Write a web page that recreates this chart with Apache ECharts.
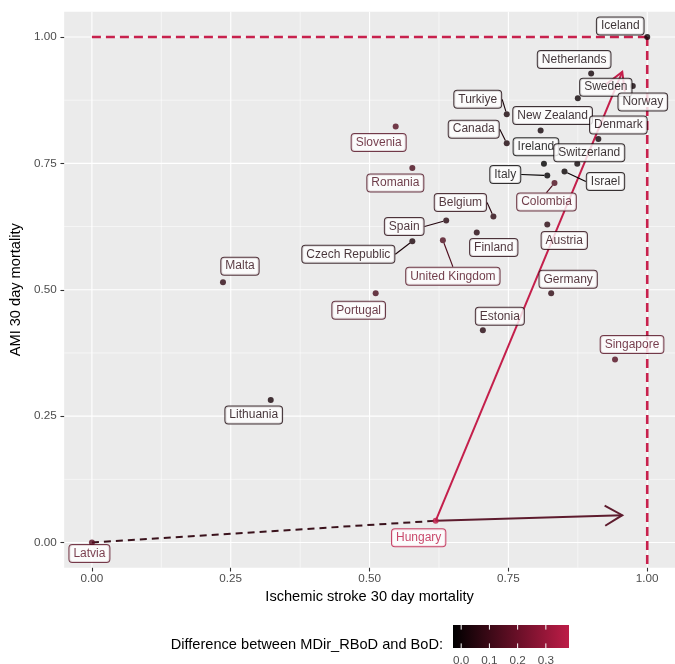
<!DOCTYPE html>
<html>
<head>
<meta charset="utf-8">
<script src="https://cdn.jsdelivr.net/npm/echarts@6/dist/echarts.min.js"></script>
<style>
  html, body { margin: 0; padding: 0; background: #ffffff; }
  #chart { width: 675px; height: 664px; }
</style>
</head>
<body>
<div id="chart"></div>
<script>
// ---- Data -----------------------------------------------------------------
const countries = [
  'Iceland', 'Netherlands', 'Sweden', 'Norway', 'Turkiye', 'New Zealand',
  'Canada', 'Ireland', 'Denmark', 'Switzerland', 'Italy', 'Israel',
  'Colombia', 'Slovenia', 'Romania', 'Belgium', 'Spain', 'Czech Republic',
  'United Kingdom', 'Finland', 'Austria', 'Germany', 'Portugal', 'Estonia',
  'Malta', 'Lithuania', 'Singapore', 'Hungary', 'Latvia'
];
// Ischemic stroke 30 day mortality (scaled)
const strokeMortality = [
  1.000, 0.899, 0.875, 0.974, 0.747, 0.808,
  0.747, 0.814, 0.912, 0.874, 0.820, 0.851,
  0.833, 0.547, 0.577, 0.723, 0.638, 0.577,
  0.632, 0.693, 0.820, 0.827, 0.511, 0.704,
  0.236, 0.322, 0.942, 0.619, 0.000
];
// AMI 30 day mortality (scaled)
const amiMortality = [
  1.000, 0.928, 0.879, 0.903, 0.847, 0.815,
  0.790, 0.749, 0.798, 0.749, 0.726, 0.734,
  0.711, 0.823, 0.741, 0.645, 0.637, 0.596,
  0.598, 0.613, 0.629, 0.493, 0.493, 0.420,
  0.515, 0.282, 0.362, 0.043, 0.000
];
// Difference between MDir_RBoD and BoD
const bodDifference = [
  0.000, 0.010, 0.000, 0.010, 0.020, 0.010,
  0.030, -0.029, 0.010, 0.000, -0.020, -0.010,
  0.140, 0.150, 0.130, 0.060, 0.050, 0.030,
  0.140, 0.050, 0.060, 0.070, 0.120, 0.050,
  0.070, 0.020, 0.150, 0.382, 0.160
];

const axisTicks = [0, 0.25, 0.5, 0.75, 1];
const minorBreaks = [0.125, 0.375, 0.625, 0.875];
const colorTicks = [0, 0.1, 0.2, 0.3];
const colorLimits = [-0.029, 0.382];

// Ends of the shift arrows drawn from Hungary, and the benchmark corner
const strokeShiftEnd = [0.955, 0.054];
const amiShiftEnd = [0.955, 0.931];
const benchmark = [1, 1];

const axisMin = -0.05;
const axisMax = 1.05;

// ---- Presentation -----------------------------------------------------------
const FONT = '"Liberation Sans", Arial, Helvetica, sans-serif';
const LOW = '#000000';
const HIGH = '#bd1c47';

// label offsets (px) relative to each point
const labelNudge = {
  'Iceland': [-27, -11], 'Netherlands': [-17, -14], 'Sweden': [28, -11],
  'Norway': [10, 16], 'Turkiye': [-29, -15], 'New Zealand': [12, -15],
  'Canada': [-33, -14], 'Ireland': [-8, -17], 'Denmark': [20, -14],
  'Switzerland': [12, -11], 'Italy': [-42, -1], 'Israel': [41, 10],
  'Colombia': [-8, 19], 'Slovenia': [-17, 16], 'Romania': [-17, 15],
  'Belgium': [-33, -14], 'Spain': [-42, 6], 'Czech Republic': [-64, 13],
  'United Kingdom': [10, 36], 'Finland': [17, 15], 'Austria': [17, 16],
  'Germany': [17, -14], 'Portugal': [-17, 17], 'Estonia': [17, -14],
  'Malta': [17, -16], 'Lithuania': [-17, 15], 'Singapore': [17, -15],
  'Hungary': [-17, 17], 'Latvia': [-2.5, 11]
};
const withLeader = new Set(['Turkiye', 'Canada', 'Italy', 'Israel', 'Colombia',
  'Belgium', 'Spain', 'Czech Republic', 'United Kingdom']);

function diffColor(v) {
  const t = (v - colorLimits[0]) / (colorLimits[1] - colorLimits[0]);
  return echarts.color.lerp(Math.max(0, Math.min(1, t)), [LOW, HIGH]);
}

const pointData = countries.map((name, i) => {
  const c = diffColor(bodDifference[i]);
  return {
    name: name,
    value: [strokeMortality[i], amiMortality[i], bodDifference[i]],
    itemStyle: { color: c },
    label: { color: c, borderColor: c },
    labelLine: { show: withLeader.has(name), lineStyle: { color: c, width: 1.1 } }
  };
});

// grid lines: [value, isHorizontal, isMinor]
const gridData = [];
axisTicks.forEach(v => { gridData.push([v, 0, 0]); gridData.push([v, 1, 0]); });
minorBreaks.forEach(v => { gridData.push([v, 0, 1]); gridData.push([v, 1, 1]); });

// segments: [x1, y1, x2, y2, styleIndex]
const iHun = countries.indexOf('Hungary');
const iLat = countries.indexOf('Latvia');
const hun = [strokeMortality[iHun], amiMortality[iHun]];
const lat = [strokeMortality[iLat], amiMortality[iLat]];
const segmentData = [
  [lat[0], lat[1], hun[0], hun[1], 0],
  [hun[0], hun[1], strokeShiftEnd[0], strokeShiftEnd[1], 1],
  [hun[0], hun[1], amiShiftEnd[0], amiShiftEnd[1], 2],
  [0, benchmark[1], benchmark[0], benchmark[1], 3],
  [benchmark[0], benchmark[1], benchmark[0], axisMin, 3]
];
const segmentStyles = [
  { stroke: '#3a121c', lineWidth: 2, lineDash: [7, 5], arrow: false },
  { stroke: '#5e1c2e', lineWidth: 2, lineDash: null, arrow: true },
  { stroke: '#c41f4b', lineWidth: 2, lineDash: null, arrow: true },
  { stroke: '#c8214d', lineWidth: 2.6, lineDash: [9, 5], arrow: false }
];

function renderGridLine(params, api) {
  const v = api.value(0), horiz = api.value(1), minor = api.value(2);
  const cs = params.coordSys;
  const w = minor ? 0.55 : 1.1;
  let shape;
  if (!horiz) {
    const x = api.coord([v, 0])[0];
    shape = { x1: x, y1: cs.y, x2: x, y2: cs.y + cs.height };
  } else {
    const y = api.coord([0, v])[1];
    shape = { x1: cs.x, y1: y, x2: cs.x + cs.width, y2: y };
  }
  return { type: 'line', shape: shape, style: { stroke: '#ffffff', lineWidth: w }, silent: true };
}

function renderSegment(params, api) {
  const p1 = api.coord([api.value(0), api.value(1)]);
  const p2 = api.coord([api.value(2), api.value(3)]);
  const st = segmentStyles[api.value(4)];
  const children = [{
    type: 'line',
    shape: { x1: p1[0], y1: p1[1], x2: p2[0], y2: p2[1] },
    style: { stroke: st.stroke, lineWidth: st.lineWidth, lineDash: st.lineDash, lineCap: 'butt' }
  }];
  if (st.arrow) {
    const dx = p2[0] - p1[0], dy = p2[1] - p1[1];
    const len = Math.hypot(dx, dy);
    const ux = dx / len, uy = dy / len;
    const L = 20, a = Math.PI / 6;
    const rot = (ang) => [ux * Math.cos(ang) - uy * Math.sin(ang), ux * Math.sin(ang) + uy * Math.cos(ang)];
    const r1 = rot(a), r2 = rot(-a);
    children.push({
      type: 'polyline',
      shape: { points: [[p2[0] - L * r1[0], p2[1] - L * r1[1]], p2, [p2[0] - L * r2[0], p2[1] - L * r2[1]]] },
      style: { stroke: st.stroke, lineWidth: st.lineWidth, fill: null, lineJoin: 'miter' }
    });
  }
  return { type: 'group', children: children, silent: true };
}

// ---- Colour bar legend ----------------------------------------------------
const barX = 453, barY = 625, barW = 116, barH = 23;
const legendGraphics = [
  {
    type: 'text', x: 443, y: 645,
    style: { text: 'Difference between MDir_RBoD and BoD:', fontSize: 14.6, fontFamily: FONT,
             fill: '#000000', align: 'right', verticalAlign: 'middle' }
  },
  {
    type: 'rect', shape: { x: barX, y: barY, width: barW, height: barH },
    style: { fill: new echarts.graphic.LinearGradient(0, 0, 1, 0, [
      { offset: 0, color: LOW }, { offset: 1, color: HIGH }]) }
  }
];
colorTicks.forEach(v => {
  const x = barX + (v - colorLimits[0]) / (colorLimits[1] - colorLimits[0]) * barW;
  legendGraphics.push({ type: 'line', shape: { x1: x, y1: barY, x2: x, y2: barY + 4.6 },
    style: { stroke: '#ffffff', lineWidth: 1 } });
  legendGraphics.push({ type: 'line', shape: { x1: x, y1: barY + barH - 4.6, x2: x, y2: barY + barH },
    style: { stroke: '#ffffff', lineWidth: 1 } });
  legendGraphics.push({ type: 'text', x: x, y: barY + barH + 7,
    style: { text: v.toFixed(1), fontSize: 11.7, fontFamily: FONT, fill: '#4d4d4d',
             align: 'center', verticalAlign: 'top' } });
});

// ---- Chart ------------------------------------------------------------------
const chart = echarts.init(document.getElementById('chart'), null, { renderer: 'canvas' });

const axisCommon = {
  type: 'value',
  min: axisMin,
  max: axisMax,
  axisLine: { show: false, onZero: false },
  axisTick: { show: true, customValues: axisTicks, length: 3.7, lineStyle: { color: '#333333', width: 1.1 } },
  splitLine: { show: false },
  nameLocation: 'middle',
  nameTextStyle: { fontSize: 14.6, color: '#000000', fontFamily: FONT }
};

chart.setOption({
  animation: false,
  backgroundColor: '#ffffff',
  grid: {
    left: 60.5, top: 11.7, width: 617.1, height: 556.1,
    show: true, backgroundColor: '#ebebeb', borderWidth: 0
  },
  xAxis: Object.assign({}, axisCommon, {
    name: 'Ischemic stroke 30 day mortality',
    nameGap: 20,
    axisLabel: { customValues: axisTicks, formatter: v => v.toFixed(2), color: '#4d4d4d',
                 fontSize: 11.7, fontFamily: FONT, margin: 5 }
  }),
  yAxis: Object.assign({}, axisCommon, {
    name: 'AMI 30 day mortality',
    nameGap: 31,
    axisLabel: { customValues: axisTicks, formatter: v => v.toFixed(2), color: '#4d4d4d',
                 fontSize: 11.7, fontFamily: FONT, margin: 7.5 }
  }),
  graphic: legendGraphics,
  series: [
    {
      type: 'custom', z: 0, silent: true,
      renderItem: renderGridLine,
      data: gridData
    },
    {
      type: 'custom', z: 1, silent: true,
      renderItem: renderSegment,
      encode: { x: [0, 2], y: [1, 3] },
      data: segmentData
    },
    {
      type: 'scatter', z: 3,
      symbolSize: 6,
      data: pointData,
      label: {
        show: true,
        position: 'inside',
        formatter: p => p.name,
        fontSize: 12,
        fontFamily: FONT,
        lineHeight: 13,
        backgroundColor: '#ffffff',
        borderWidth: 1,
        borderRadius: 3,
        padding: [2, 4, 2, 4]
      },
      labelLine: { show: false },
      labelLayout: function (params) {
        const n = labelNudge[countries[params.dataIndex]] || [0, 0];
        return { dx: n[0], dy: n[1] };
      }
    }
  ]
});
</script>
</body>
</html>
